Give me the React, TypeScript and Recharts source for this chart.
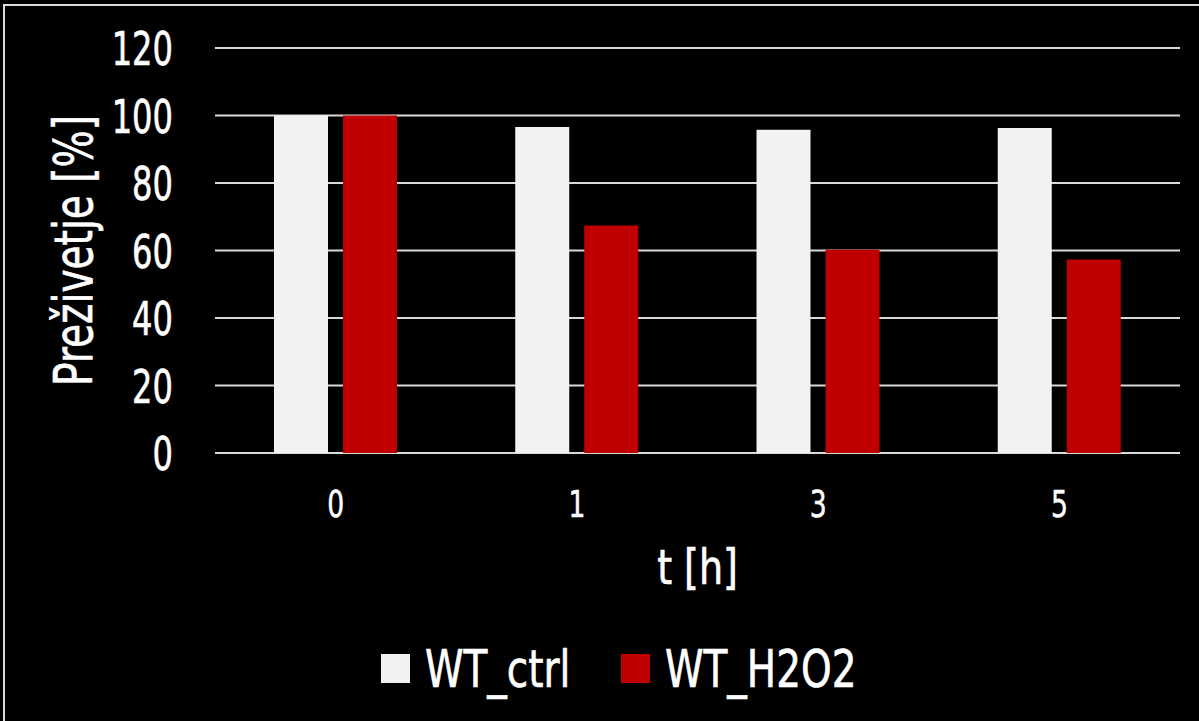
import React from 'react';
import { BarChart, Bar, XAxis, YAxis, CartesianGrid, Legend } from 'recharts';

const categories = ['0', '1', '3', '5'];
const wtCtrl = [100, 96.6, 95.8, 96.3];
const wtH2O2 = [100, 67.4, 60.2, 57.3];
const yTicks = [0, 20, 40, 60, 80, 100, 120];
const seriesNames = ['WT_ctrl', 'WT_H2O2'];
const seriesColors = ['#f2f2f2', '#c00000'];
const xTitle = 't [h]';
const yTitle = 'Preživetje [%]';

const data = categories.map((t, i) => ({ t, ctrl: wtCtrl[i], h2o2: wtH2O2[i] }));

const FONT = "'DejaVu Sans Condensed', 'DejaVu Sans', sans-serif";
const TEXT_STROKE = 0.6;

const YTick = (props: any) => {
  const { x, y, payload } = props;
  const fs = 47;
  return (
    <text
      transform={`translate(${x},${y + fs * 0.365}) scale(0.76,1)`}
      x={0}
      y={0}
      textAnchor="end"
      fill="#ffffff"
      stroke="#ffffff"
      strokeWidth={TEXT_STROKE}
      fontSize={fs}
      fontFamily={FONT}
      fontStretch="condensed"
    >
      {payload.value}
    </text>
  );
};

const XTick = (props: any) => {
  const { x, y, payload } = props;
  const fs = 37;
  return (
    <text
      transform={`translate(${x},${y + 64}) scale(0.8,1)`}
      x={0}
      y={0}
      textAnchor="middle"
      fill="#ffffff"
      stroke="#ffffff"
      strokeWidth={0.5}
      fontSize={fs}
      fontFamily={FONT}
      fontStretch="condensed"
    >
      {payload.value}
    </text>
  );
};

const YTitle = (props: any) => {
  const vb = props.viewBox || {};
  const cy = vb.height != null ? vb.y + vb.height / 2 : 250;
  return (
    <text
      transform={`translate(92,${cy}) rotate(-90) scale(0.82,1)`}
      x={0}
      y={0}
      textAnchor="middle"
      fill="#ffffff"
      stroke="#ffffff"
      strokeWidth={TEXT_STROKE}
      fontSize={53}
      fontFamily={FONT}
      fontStretch="condensed"
    >
      {yTitle}
    </text>
  );
};

const XTitle = (props: any) => {
  const vb = props.viewBox || {};
  const cx = vb.width != null ? vb.x + vb.width / 2 : 697;
  const by = vb.y != null ? vb.y + 131 : 584;
  return (
    <text
      transform={`translate(${cx},${by}) scale(0.88,1)`}
      x={0}
      y={0}
      textAnchor="middle"
      fill="#ffffff"
      stroke="#ffffff"
      strokeWidth={TEXT_STROKE}
      fontSize={48}
      fontFamily={FONT}
      fontStretch="condensed"
    >
      {xTitle}
    </text>
  );
};

const LegendContent = (props: any) => {
  const payload = (props.payload || [])
    .slice()
    .sort((a: any, b: any) => seriesNames.indexOf(a.value) - seriesNames.indexOf(b.value));
  const fs = 51;
  return (
    <svg width={1199} height={70} style={{ display: 'block' }}>
      {payload.map((p: any, i: number) => {
        const x0 = 381 + i * 240;
        return (
          <g key={String(p.value)}>
            <rect x={x0} y={16} width={29} height={29} fill={p.color} />
            <text
              transform={`translate(${x0 + 44},${16 + 14.5 + fs * 0.365}) scale(0.85,1)`}
              x={0}
              y={0}
              fill="#ffffff"
              stroke="#ffffff"
              strokeWidth={TEXT_STROKE}
              fontSize={fs}
              fontFamily={FONT}
              fontStretch="condensed"
            >
              {p.value}
            </text>
          </g>
        );
      })}
    </svg>
  );
};

export default function App() {
  return (
    <div
      style={{
        position: 'fixed',
        left: 0,
        top: 0,
        width: 1199,
        height: 721,
        background: '#000000',
        overflow: 'hidden',
      }}
    >
      <div
        style={{
          position: 'absolute',
          left: 3,
          top: 4,
          width: 1400,
          height: 1000,
          border: '2px solid #d9d9d9',
          boxSizing: 'border-box',
        }}
      />
      <div style={{ position: 'absolute', left: 0, top: 0 }}>
        <BarChart
          width={1199}
          height={721}
          data={data}
          margin={{ top: 48, right: 19, left: 0, bottom: 208 }}
          barSize={54}
          barGap={15}
        >
          <CartesianGrid vertical={false} stroke="#d9d9d9" strokeWidth={2} />
          <XAxis
            dataKey="t"
            axisLine={false}
            tickLine={false}
            tickSize={0}
            tickMargin={0}
            height={60}
            tick={<XTick />}
            label={(p: any) => <XTitle {...p} />}
          />
          <YAxis
            domain={[0, 120]}
            ticks={yTicks}
            interval={0}
            axisLine={false}
            tickLine={false}
            tickSize={0}
            tickMargin={42}
            width={215}
            tick={<YTick />}
            label={(p: any) => <YTitle {...p} />}
          />
          <Legend
            layout="horizontal"
            verticalAlign="middle"
            align="center"
            wrapperStyle={{ top: 638, left: 0, width: 1199, height: 70 }}
            content={(p: any) => <LegendContent {...p} />}
          />
          <Bar dataKey="ctrl" name={seriesNames[0]} fill={seriesColors[0]} isAnimationActive={false} />
          <Bar dataKey="h2o2" name={seriesNames[1]} fill={seriesColors[1]} isAnimationActive={false} />
        </BarChart>
      </div>
    </div>
  );
}
